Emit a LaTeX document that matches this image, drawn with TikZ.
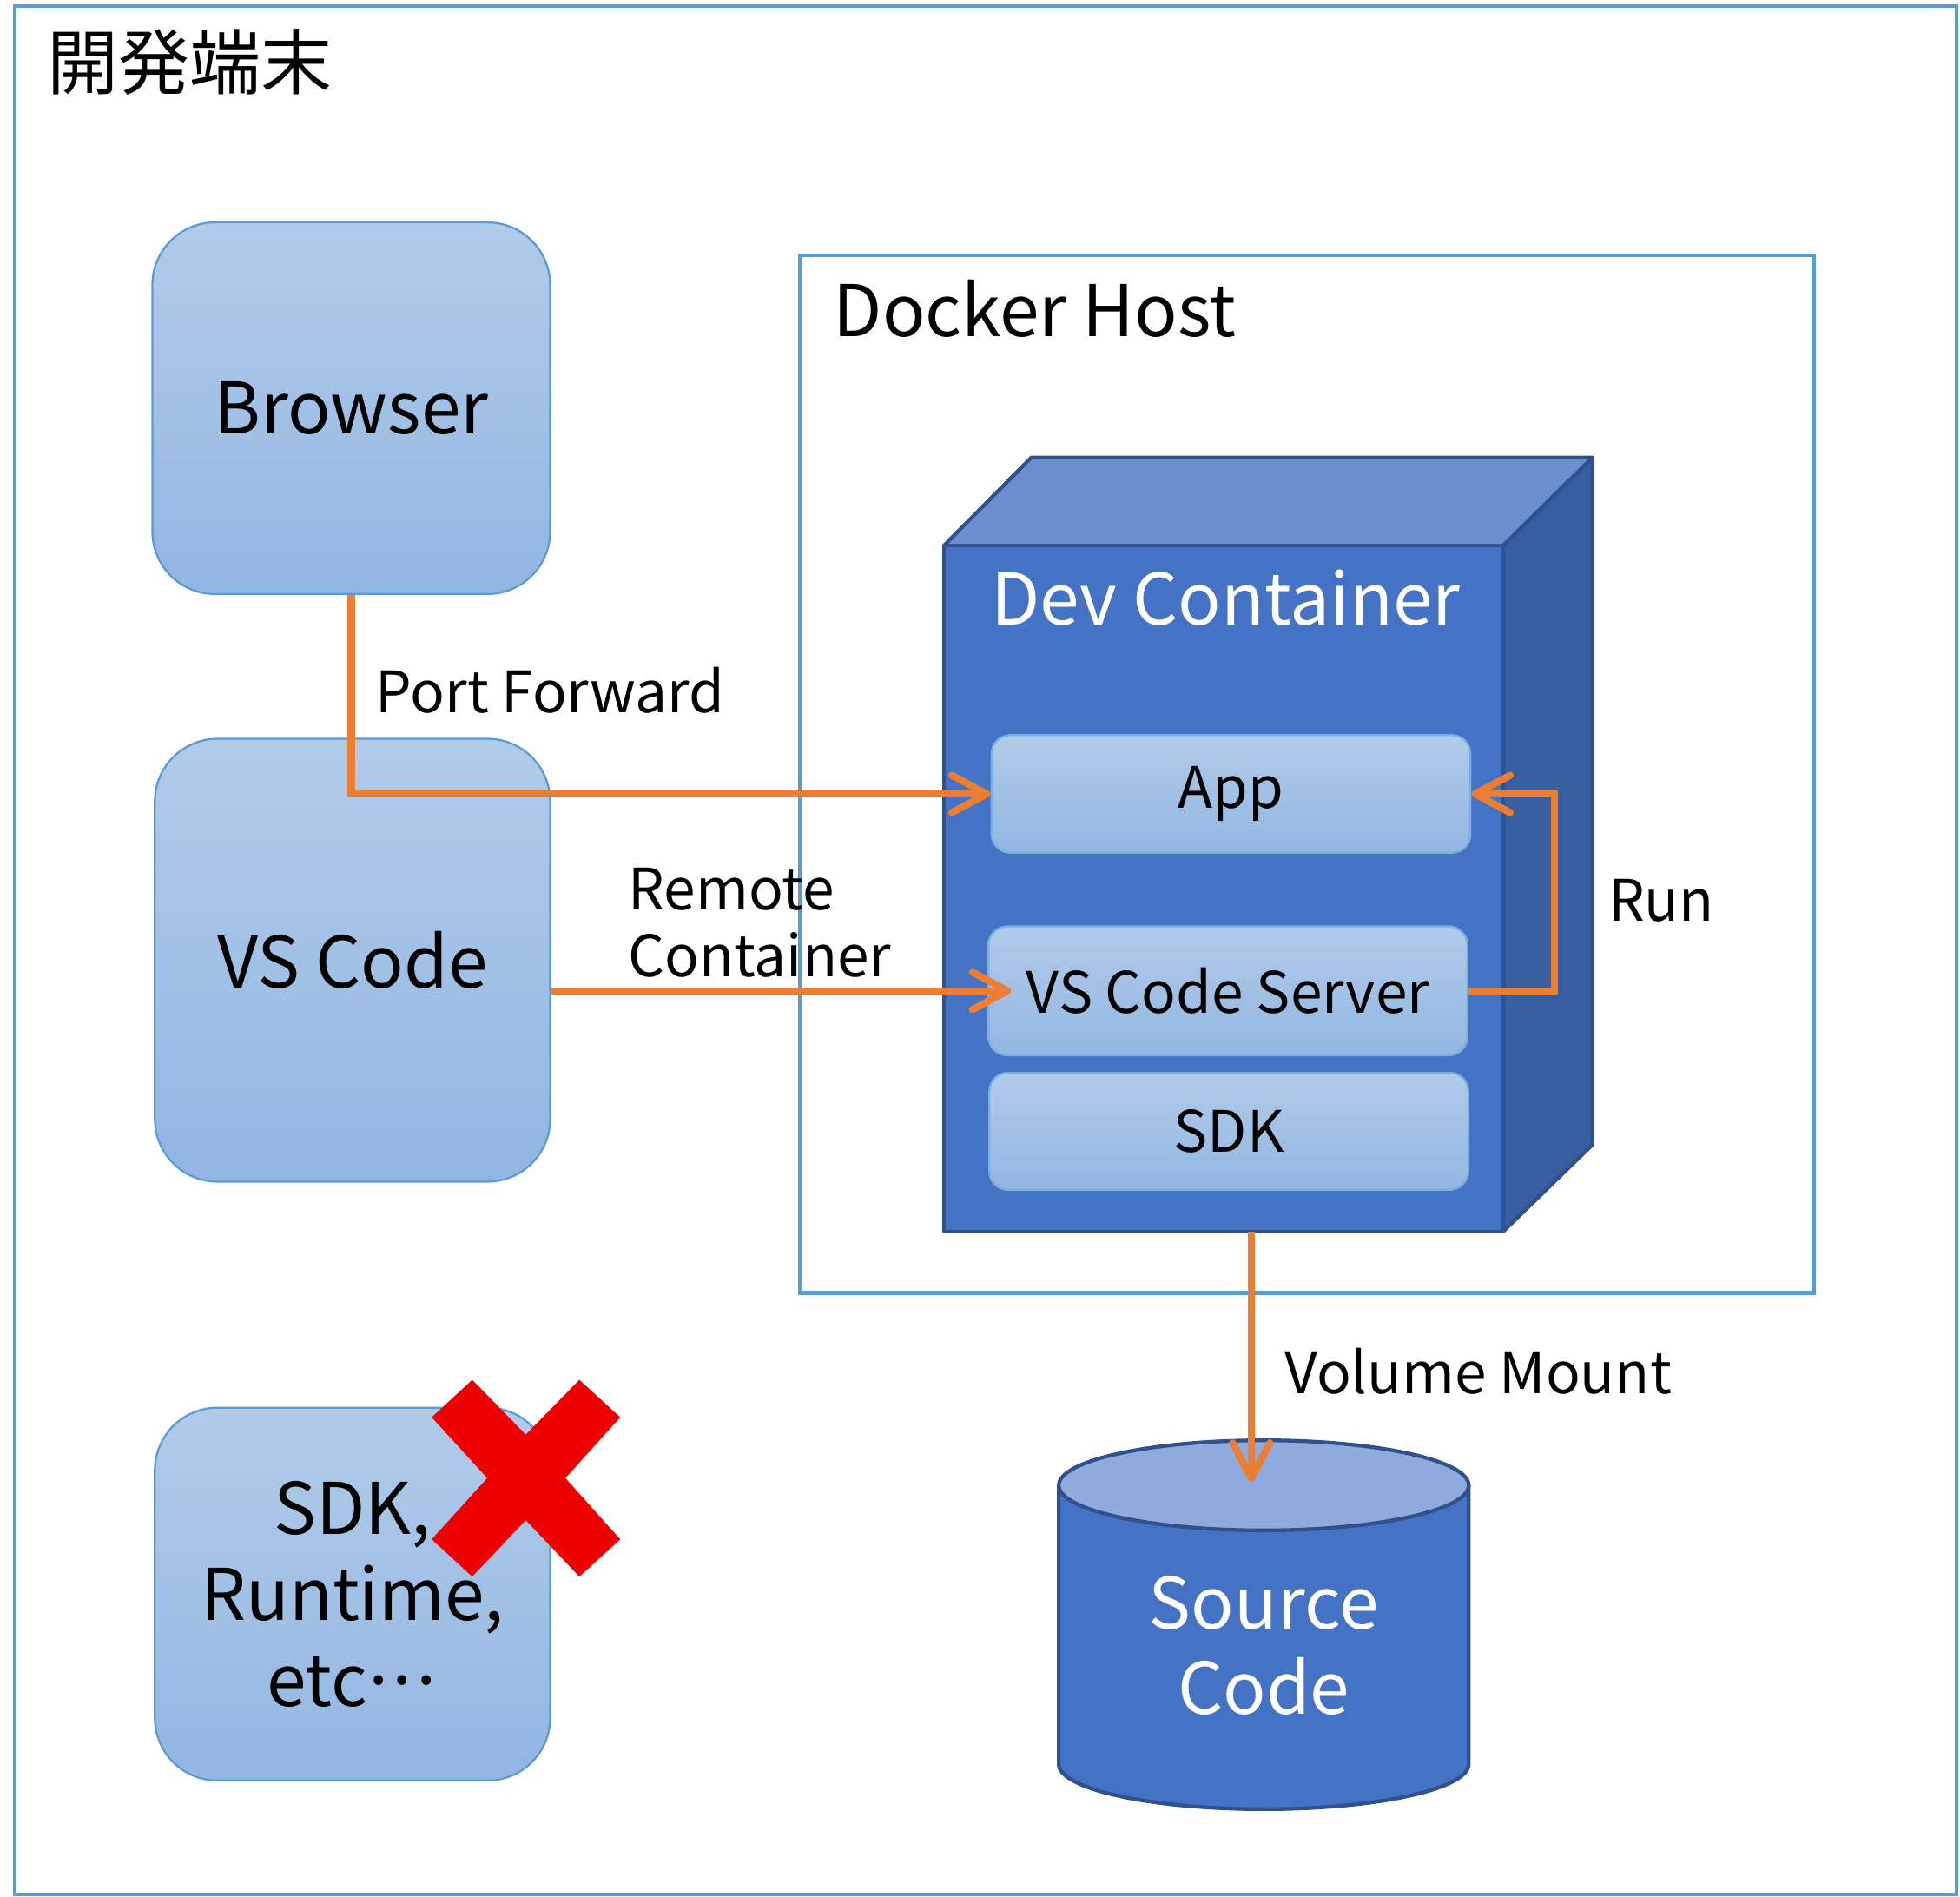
\documentclass[tikz,border=0pt]{standalone}
\usepackage{fontspec}
\setmainfont{Noto Sans CJK JP}
\usetikzlibrary{arrows.meta,calc}
\definecolor{frameblue}{HTML}{5B9BD5}
\definecolor{boxtop}{HTML}{B1CBE9}
\definecolor{boxbot}{HTML}{92B6E2}
\definecolor{cfront}{HTML}{4472C4}
\definecolor{ctop}{HTML}{6A8FCD}
\definecolor{cside}{HTML}{375E9F}
\definecolor{cedge}{HTML}{2F528F}
\definecolor{arroworange}{HTML}{ED7D31}
\definecolor{xred}{HTML}{EE0000}
\definecolor{disklid}{HTML}{8FAADC}
\newcommand{\mydot}{\makebox[0.33em]{·}}
\tikzset{
  frame/.style={draw=frameblue, line width=0.85pt},
  bigbox/.style={draw=frameblue, line width=0.45pt, rounded corners=0.5cm,
    top color=boxtop, bottom color=boxbot, inner sep=0pt, align=center,
    font=\fontsize{16.2}{19.6}\selectfont},
  innerbox/.style={draw=frameblue!80!white, line width=0.45pt, rounded corners=0.15cm,
    top color=boxtop, bottom color=boxbot, inner sep=0pt, align=center,
    font=\fontsize{13}{15.4}\selectfont},
  lbl/.style={inner sep=0pt, anchor=west, align=left, font=\fontsize{13}{15.4}\selectfont},
  bigtitle/.style={inner sep=0pt, anchor=west, font=\fontsize{16.2}{19.6}\selectfont},
  conn/.style={draw=arroworange, line width=1.6pt,
    -{Straight Barb[length=8pt, width=8.5pt, round]}},
  cubeedge/.style={draw=cedge, line width=0.85pt, line join=round},
}
\begin{document}
\begin{tikzpicture}[x=0.01cm, y=-0.01cm]
\useasboundingbox (0,0) rectangle (1568,1517);
% outer frame
\draw[frame] (12,5) rectangle (1565,1515);
\node[bigtitle] (title) at (37,50) {開発端末};
% Docker host frame
\draw[frame] (640,204) rectangle (1451,1034);
\node[bigtitle] (dockerhost) at (666,247) {Docker Host};
% cube
\filldraw[cubeedge, fill=ctop] (755,436.5) -- (825,366) -- (1274,366) -- (1202.5,436.5) -- cycle;
\filldraw[cubeedge, fill=cside] (1202.5,436.5) -- (1274,366) -- (1274,915.5) -- (1202.5,985) -- cycle;
\filldraw[cubeedge, fill=cfront] (755,436.5) rectangle (1202.5,985);
\node[inner sep=0pt, text=white, font=\fontsize{16.2}{19.6}\selectfont] (devc) at (980.5,478) {Dev Container};
% left boxes
\node[bigbox, minimum width=3.18cm, minimum height=2.97cm] (browser) at (281,326.5) {Browser};
\node[bigbox, minimum width=3.16cm, minimum height=3.54cm] (vscode) at (282,768) {VS Code};
\node[bigbox, minimum width=3.16cm, minimum height=2.98cm] (sdkrt) at (282,1275) {SDK,\\Runtime,\\etc\mydot\mydot\mydot};
% red cross
\fill[xred] (345.4,1133.6) -- (377.8,1103.6) -- (420.6,1147.5) -- (463.5,1103.6) -- (496.2,1133.6)
  -- (452.3,1182.2) -- (496.2,1231.2) -- (463.5,1261) -- (420.6,1215.8) -- (377.8,1261)
  -- (345.4,1231.2) -- (389.8,1182.2) -- cycle;
% inner boxes
\node[innerbox, minimum width=3.83cm, minimum height=0.94cm] (app) at (984.8,635) {App};
\node[innerbox, minimum width=3.83cm, minimum height=1.03cm] (vscs) at (982.3,792.5) {VS Code Server};
\node[innerbox, minimum width=3.83cm, minimum height=0.936cm] (sdk) at (983.1,904.8) {SDK};
% cylinder
\filldraw[cubeedge, fill=cfront] (847,1188) -- (847,1411)
  arc[start angle=180, end angle=0, x radius=164, y radius=36] -- (1175,1188) -- cycle;
\filldraw[cubeedge, fill=disklid] (1011,1188) ellipse [x radius=164, y radius=36];
\node[inner sep=0pt, text=white, align=center, font=\fontsize{16.2}{19.4}\selectfont] (disk) at (1011,1316) {Source\\Code};
% connectors
\coordinate (cubebot) at (1001,985);
\coordinate (diskin) at (1001,1185);
\draw[conn] (browser.south) |- (app.west);
\draw[conn] (vscode.east |- vscs.west) -- ([xshift=0.19cm]vscs.west);
\draw[conn] (vscs.east) -- ++(69,0) |- (app.east);
\draw[conn] (cubebot) -- (diskin);
% labels
\node[lbl] (lpf) at (300,552) {Port Forward};
\node[lbl] (lrc) at (502,738) {Remote\\Container};
\node[lbl] (lrun) at (1286,720) {Run};
\node[lbl] (lvm) at (1027,1097) {Volume Mount};
\end{tikzpicture}
\end{document}
